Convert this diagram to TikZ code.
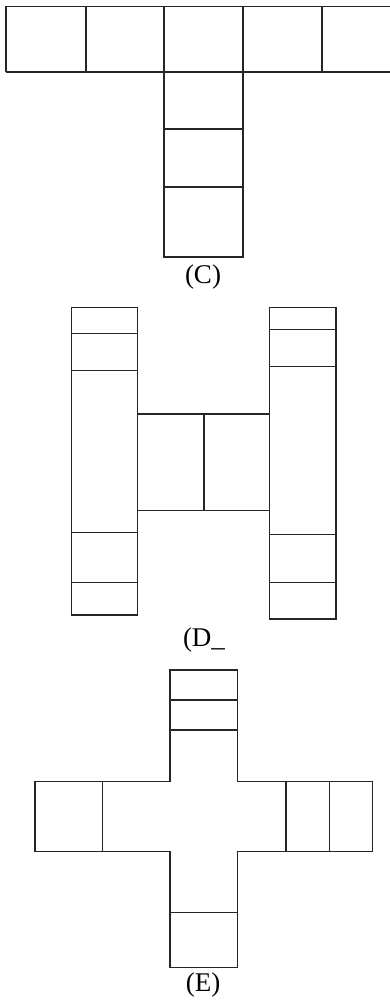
\documentclass[tikz,border=0pt]{standalone}
\usepackage{fontspec}
\setmainfont{Liberation Serif}

\colorlet{figLine} {black!85}
\colorlet{figLabel}{black}

\tikzset{
  cellline/.style={line width=1.5pt, figLine, line join=miter},
  netlabel/.style={font=\fontsize{27}{30}\selectfont, figLabel, inner sep=0pt}
}

\begin{document}
\begin{tikzpicture}[x=1pt, y=-1pt]
        \useasboundingbox (0,0) rectangle (390,1000);
        \clip (0,0) rectangle (390,1000);
        % net (C)
        \draw[cellline] (6,6.5)--(401,6.5) (6,72)--(401,72);
        \foreach \xc in {6,86,164,243,322,401}
              \draw[cellline] (\xc,6.5)--(\xc,72);
        \draw[cellline] (164,72)--(164,257)--(243,257)--(243,72);
        \foreach \yc in {129,187}
              \draw[cellline] (164,\yc)--(243,\yc);
        \node[netlabel] (labC) at (203,277){(C)};
        % net (D_
        \draw[cellline] (71.7,307.3) rectangle (137.7,615);
        \foreach \yc in {333.3,370.3,532.3,582.3}
              \draw[cellline] (71.7,\yc)--(137.7,\yc);
        \draw[cellline] (137.7,414) rectangle (269.3,510.7);
        \draw[cellline] (204,414)--(204,510.7);
        \draw[cellline] (269.3,307.3) rectangle (336,619);
        \foreach \yc in {329.3,366.7,534.3,582.3}
              \draw[cellline] (269.3,\yc)--(336,\yc);
        \node[netlabel] (labD) at (204,640){(D\_};
        % net (E)
        \draw[cellline] (170,670)--(237.3,670)--(237.3,781.7)--(372.3,781.7)
              --(372.3,851.7)--(237.3,851.7)--(237.3,967.7)--(170,967.7)
              --(170,851.7)--(35,851.7)--(35,781.7)--(170,781.7)--cycle;
        \foreach \yc in {700,730,912.3}
              \draw[cellline] (170,\yc)--(237.3,\yc);
        \foreach \xc in {102.7,286,329.3}
              \draw[cellline] (\xc,781.7)--(\xc,851.7);
        \node[netlabel] (labE) at (203,985){(E)};
      \end{tikzpicture}
\end{document}
